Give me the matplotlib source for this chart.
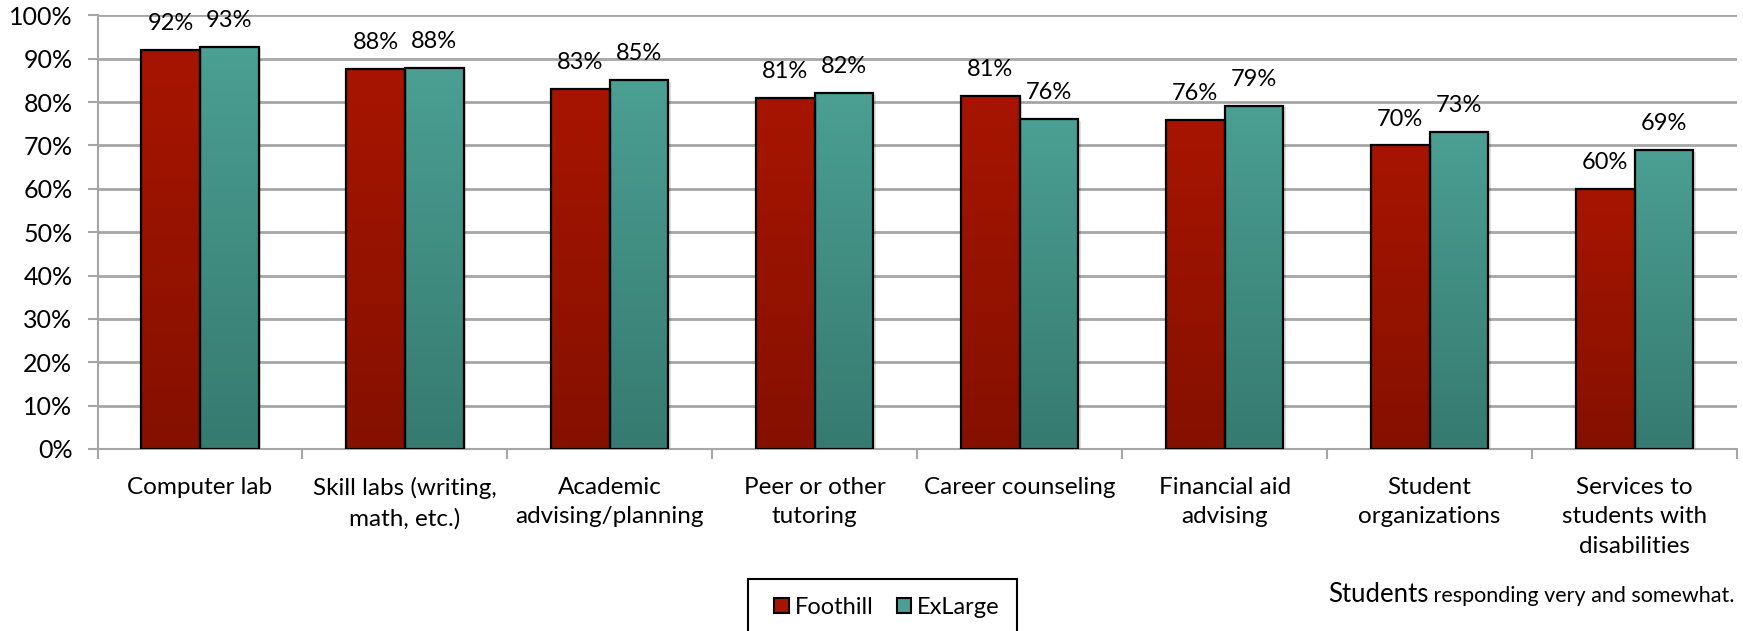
import numpy as np
import matplotlib
matplotlib.use("Agg")
import matplotlib.pyplot as plt
from matplotlib.patches import Rectangle
from matplotlib.colors import LinearSegmentedColormap

categories = ["Computer lab", "Skill labs (writing,\nmath, etc.)", "Academic\nadvising/planning",
              "Peer or other\ntutoring", "Career counseling", "Financial aid\nadvising",
              "Student\norganizations", "Services to\nstudents with\ndisabilities"]
foothill = [92.0, 87.6, 83.0, 81.0, 81.4, 75.8, 70.0, 60.0]
exlarge = [92.8, 87.8, 85.0, 82.0, 76.0, 79.2, 73.2, 68.9]
series_names = ["Foothill", "ExLarge"]
yticks = [0, 10, 20, 30, 40, 50, 60, 70, 80, 90, 100]

FONT = ["Lato", "DejaVu Sans"]
plt.rcParams['font.family'] = FONT

W, H = 1743, 631
fig = plt.figure(figsize=(W / 100, H / 100), dpi=100)
ax = fig.add_axes([97.5 / W, 1 - 449 / H, (1737 - 97.5) / W, (449 - 15.3) / H])

red_cmap = LinearSegmentedColormap.from_list("r", ["#851000", "#A71500"])
teal_cmap = LinearSegmentedColormap.from_list("t", ["#367A70", "#4B9F93"])
grad = np.linspace(0, 1, 256).reshape(-1, 1)

x = np.arange(len(categories))
bw = 0.286
b1 = ax.bar(x - bw / 2, foothill, bw, facecolor="none", edgecolor="black", linewidth=1.6, zorder=3)
b2 = ax.bar(x + bw / 2, exlarge, bw, facecolor="none", edgecolor="black", linewidth=1.6, zorder=3)

for bars, cmap in ((b1, red_cmap), (b2, teal_cmap)):
    for p in bars:
        x0, y0 = p.get_x(), p.get_y()
        w, h = p.get_width(), p.get_height()
        im = ax.imshow(grad, cmap=cmap, origin="lower", aspect="auto",
                       extent=(x0, x0 + w, y0, y0 + h), zorder=2)
        im.set_clip_path(p)
        ax.add_patch(Rectangle((x0 + 0.012, y0 - 0.4), w, h, facecolor="#000000",
                               alpha=0.12, edgecolor="none", zorder=1.5))

for bars, vals in ((b1, foothill), (b2, exlarge)):
    for p, v in zip(bars, vals):
        ax.annotate(f"{v:.0f}%", (p.get_x() + p.get_width() / 2, v), xytext=(0, 19),
                    textcoords="offset points", ha="center", va="center", fontsize=17,
                    color="black", zorder=4)

ax.set_xlim(-0.5, len(categories) - 0.5)
ax.set_ylim(0, 100)
ax.set_yticks(yticks)
ax.set_yticklabels([f"{t}%" for t in yticks], fontsize=18)
ax.yaxis.grid(True, color="#A6A6A6", linewidth=2, zorder=0)
ax.set_axisbelow(True)
ax.tick_params(axis="y", length=7, width=1.5, color="#A6A6A6", pad=11)

ax.set_xticks(x)
ax.set_xticklabels(categories, fontsize=17.5, linespacing=1.5)
ax.tick_params(axis="x", which="major", length=0, pad=20)
ax.set_xticks(np.arange(-0.5, len(categories)), minor=True)
ax.tick_params(axis="x", which="minor", length=7, width=1.5, color="#A6A6A6")

for s in ["top", "right"]:
    ax.spines[s].set_visible(False)
for s in ["left", "bottom"]:
    ax.spines[s].set_color("#A6A6A6")
    ax.spines[s].set_linewidth(1.5)

# legend box (extends past figure bottom)
fig.patches.append(Rectangle((748 / W, -0.1), (1017 - 748) / W, 0.1 + 1 - 579 / H,
                             transform=fig.transFigure, facecolor="white",
                             edgecolor="black", linewidth=1.5))
handles = [Rectangle((0, 0), 1, 1, facecolor=c, edgecolor="black", linewidth=1.5)
           for c in ("#A71500", "#4B9F93")]
fig.legend(handles, series_names, loc="center", bbox_to_anchor=(887 / W, 1 - 607 / H),
           ncol=2, frameon=False, fontsize=17, handlelength=0.6, handleheight=0.6,
           handletextpad=0.25, columnspacing=1.0)

# note with mixed sizes
fig.canvas.draw()
t2 = fig.text(1735 / W, 1 - 602 / H, " responding very and somewhat.", ha="right", va="baseline",
              fontsize=15.5)
fig.canvas.draw()
bb = t2.get_window_extent()
fig.text(bb.x0 / W, 1 - 602 / H, "Students", ha="right", va="baseline", fontsize=18.5)

fig.savefig("out.png", dpi=100)
